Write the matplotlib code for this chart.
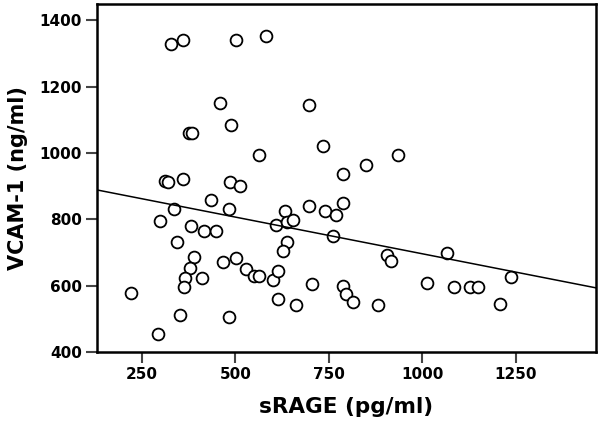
import numpy as np
import matplotlib
matplotlib.use("Agg")
import matplotlib.pyplot as plt

# sRAGE (pg/ml) values
srage = [327.5, 359.6, 502, 582, 457.5, 698, 374.6, 383.7, 488, 564.5,
         735.6, 787.4, 849.7, 934.5, 698, 740, 769.5, 789, 310.4, 319.5,
         359.6, 486, 512.8, 434.5, 336, 481.6, 633, 299, 381, 416.6,
         448.7, 343.6, 389.8, 377.3, 365.8, 363, 410.4, 468, 501, 529,
         550, 562, 600, 615, 609, 639, 655, 639, 627, 615,
         662.6, 704.5, 220.6, 294, 350.5, 484, 760.5, 905, 915.8, 1067,
         1237, 789, 796, 814, 882.6, 1013.6, 1085, 1128, 1150, 1208]

# VCAM-1 (ng/ml)
vcam = [1329, 1340, 1340, 1352, 1150, 1146, 1059, 1059, 1083, 993,
        1021, 936, 963, 993, 839, 826, 813, 849, 916, 913,
        921, 913, 899, 857, 831, 831, 825, 795, 779, 764,
        764, 730, 685, 652, 624, 595, 622, 672, 684, 650,
        628, 628, 618, 645, 783, 791, 798, 730, 704, 560,
        542, 604, 578, 455, 512, 505, 749, 692, 674, 698,
        625, 600, 575, 550, 540, 608, 595, 595, 595, 545]

x_ticks = [250, 500, 750, 1000, 1250]
y_ticks = [400, 600, 800, 1000, 1200, 1400]

plt.rcParams['font.family'] = 'DejaVu Sans'
plt.rcParams['font.weight'] = 'bold'

fig = plt.figure(figsize=(6, 4.28), dpi=100)
ax = fig.add_axes([0.162, 0.178, 0.831, 0.813])

ax.plot(srage, vcam, linestyle='none', marker='o', markersize=8.5,
        markerfacecolor='white', markeredgecolor='black', markeredgewidth=1.3)

# linear fit line
xlim = (130, 1465)
slope, intercept = np.polyfit(srage, vcam, 1)
xs = np.array(xlim)
ax.plot(xs, intercept + slope * xs, color='black', linewidth=1.1)

ax.set_xlim(*xlim)
ax.set_ylim(400, 1450)
ax.set_xticks(x_ticks)
ax.set_yticks(y_ticks)

for s in ax.spines.values():
    s.set_linewidth(1.8)
ax.tick_params(direction='out', length=8, width=1.5, color='#444444',
               labelsize=11, pad=3)
for lab in ax.get_xticklabels() + ax.get_yticklabels():
    lab.set_fontweight('bold')

ax.set_xlabel('sRAGE (pg/ml)', fontsize=15.5, fontweight='bold', labelpad=11)
ax.set_ylabel('VCAM-1 (ng/ml)', fontsize=15, fontweight='bold', labelpad=8)

fig.savefig('out.png', dpi=100)
